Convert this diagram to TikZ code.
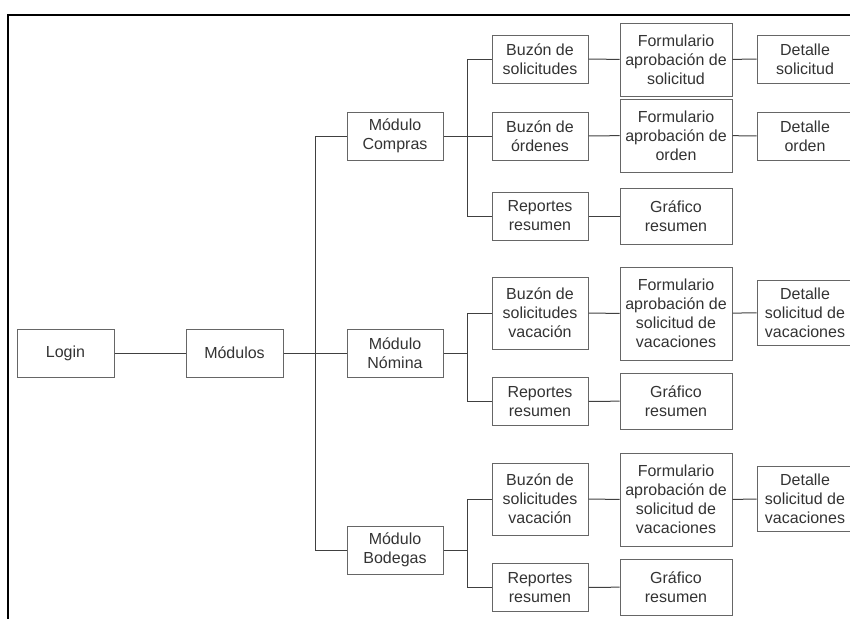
\documentclass[tikz,border=0pt]{standalone}
\usepackage{fontspec}
\setmainfont{Liberation Sans}
\tikzset{every picture/.style={line width=0.75pt}}
\tikzset{
    box/.style={draw=black!60, text=black!80, align=center, inner sep=0pt,
        font=\fontsize{12}{14.25}\selectfont,
        minimum width=72pt, minimum height=36pt},
    wide box/.style={box, minimum width=84pt},
    wire/.style={draw=black!75},
    frame line/.style={line width=1.5pt}}

\begin{document}
\begin{tikzpicture}[x=0.75pt,y=0.75pt,yscale=-1,xscale=1]
            \useasboundingbox (0,0) rectangle (850,619);
            \clip (0,0) rectangle (850,619);
            %Frame
            \draw[frame line] (850,15) -- (8,15) -- (8,619);

            %Root
            \node (login) at (65.5,353) [box, minimum width=72.75pt] {Login};
            \node (modulos) at (234.5,353) [box, minimum width=72.75pt] {Módulos};

            %Modules
            \node (mcompras) at (395,136) [box] {Módulo\\Compras};
            \node (mnomina) at (395,353) [box] {Módulo\\Nómina};
            \node (mbodegas) at (395,550) [box] {Módulo\\Bodegas};

            %Compras
            \node (bsolc) at (540,59) [box] {Buzón de\\solicitudes};
            \node (fsolc) at (676,59.5) [wide box, minimum height=54.75pt] {Formulario\\aprobación de\\solicitud};
            \node (dsolc) at (805,59) [box] {Detalle\\solicitud};
            \node (bordc) at (540,136) [box] {Buzón de\\órdenes};
            \node (fordc) at (676,135.5) [wide box, minimum height=54.75pt] {Formulario\\aprobación de\\orden};
            \node (dordc) at (805,136) [box] {Detalle\\orden};
            \node (repc) at (540,216) [box] {Reportes\\resumen};
            \node (grac) at (676,216) [wide box, minimum height=42pt] {Gráfico\\resumen};

            %Nomina
            \node (bvacn) at (540,313) [box, minimum height=54pt] {Buzón de\\solicitudes\\vacación};
            \node (fvacn) at (676,313.5) [wide box, minimum height=69.75pt] {Formulario\\aprobación de\\solicitud de\\vacaciones};
            \node (dvacn) at (805,312.5) [box, minimum height=48.75pt] {Detalle\\solicitud de\\vacaciones};
            \node (repn) at (540,401.5) [box] {Reportes\\resumen};
            \node (gran) at (676,401) [wide box, minimum height=42pt] {Gráfico\\resumen};

            %Bodegas
            \node (bvacb) at (540,499) [box, minimum height=54pt] {Buzón de\\solicitudes\\vacación};
            \node (fvacb) at (676,499.5) [wide box, minimum height=69.75pt] {Formulario\\aprobación de\\solicitud de\\vacaciones};
            \node (dvacb) at (805,499) [box, minimum height=48.75pt] {Detalle\\solicitud de\\vacaciones};
            \node (repb) at (540,587.5) [box] {Reportes\\resumen};
            \node (grab) at (676,587) [wide box, minimum height=42pt] {Gráfico\\resumen};

            %Bus points
            \coordinate (mbus) at (315,353);
            \coordinate (cbus) at (467.5,136);
            \coordinate (nbus) at (467.5,353);
            \coordinate (bbus) at (467.5,550);

            %Connectors
            \draw[wire] (login) -- (modulos);
            \draw[wire] (modulos) -- (mnomina);
            \draw[wire] (mbus) |- (mcompras);
            \draw[wire] (mbus) |- (mbodegas);

            \draw[wire] (mcompras) -- (bordc);
            \draw[wire] (cbus) |- (bsolc);
            \draw[wire] (cbus) |- (repc);
            \draw[wire] (bsolc) -- (fsolc) -- (dsolc);
            \draw[wire] (bordc) -- (fordc) -- (dordc);
            \draw[wire] (repc) -- (grac);

            \draw[wire] (mnomina) -- (nbus);
            \draw[wire] (nbus) |- (bvacn);
            \draw[wire] (nbus) |- (repn);
            \draw[wire] (bvacn) -- (fvacn) -- (dvacn);
            \draw[wire] (repn) -- (gran);

            \draw[wire] (mbodegas) -- (bbus);
            \draw[wire] (bbus) |- (bvacb);
            \draw[wire] (bbus) |- (repb);
            \draw[wire] (bvacb) -- (fvacb) -- (dvacb);
            \draw[wire] (repb) -- (grab);
        \end{tikzpicture}
\end{document}
